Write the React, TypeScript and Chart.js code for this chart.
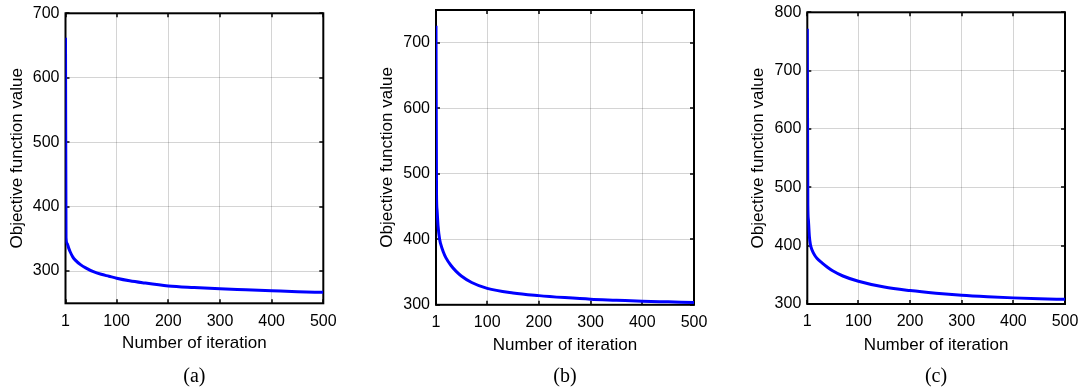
import React, { useEffect, useRef } from "react";
import { Chart, registerables } from "chart.js";

Chart.register(...registerables);

// ---- data ----
const xTickValues = [1, 100, 200, 300, 400, 500];
const xTitle = "Number of iteration";
const yTitle = "Objective function value";

const iterA = [1, 2, 4, 7, 10, 15, 20, 30, 40, 55, 70, 85, 100, 125, 150, 200, 250, 300, 350, 400, 450, 500];
const valuesA = [662, 352, 343, 336, 330, 322, 317, 310, 305, 299, 295, 292, 289, 285, 282, 277, 274.5, 272.5, 271, 269.5, 268, 267];
const yTicksA = [300, 400, 500, 600, 700];
const yRangeA = [250, 700];

const iterB = [1, 2, 3, 5, 8, 10, 15, 20, 30, 40, 50, 70, 100, 150, 200, 250, 300, 350, 400, 450, 500];
const valuesB = [726, 470, 445, 420, 400, 393, 381, 372, 360, 351, 344, 334, 325, 318, 314, 311, 308.5, 307, 305.5, 304.5, 303.5];
const yTicksB = [300, 400, 500, 600, 700];
const yRangeB = [300, 750];

const iterC = [1, 2, 3, 5, 7, 10, 15, 20, 30, 40, 50, 70, 100, 150, 200, 250, 300, 350, 400, 450, 500];
const valuesC = [772, 470, 445, 416, 402, 393, 384, 378, 370, 363, 357, 348, 339, 329, 323, 318.5, 315, 312.5, 310.5, 309, 308];
const yTicksC = [300, 400, 500, 600, 700, 800];
const yRangeC = [300, 800];

const captions = ["(a)", "(b)", "(c)"];

const SANS = "'Liberation Sans', Arial, Helvetica, sans-serif";
const SERIF = "'Liberation Serif', 'Times New Roman', Times, serif";

const framePlugin = {
  id: "matlabFrame",
  beforeDatasetsDraw(chart: any) {
    const { ctx, chartArea: a, scales } = chart;
    const xs = scales.x;
    const ys = scales.y;
    const tl = 4;
    ctx.save();
    ctx.strokeStyle = "#000";
    ctx.lineWidth = 1.5;
    ctx.beginPath();
    xs.ticks.forEach((t: any) => {
      const px = Math.round(xs.getPixelForValue(t.value));
      ctx.moveTo(px, a.bottom);
      ctx.lineTo(px, a.bottom - tl);
      ctx.moveTo(px, a.top);
      ctx.lineTo(px, a.top + tl);
    });
    ys.ticks.forEach((t: any) => {
      const py = Math.round(ys.getPixelForValue(t.value));
      ctx.moveTo(a.left, py);
      ctx.lineTo(a.left + tl, py);
      ctx.moveTo(a.right, py);
      ctx.lineTo(a.right - tl, py);
    });
    ctx.stroke();
    ctx.lineWidth = 2;
    ctx.strokeRect(a.left, a.top, a.right - a.left, a.bottom - a.top);
    ctx.restore();
  },
};

type Geom = {
  x: number;
  width: number;
  height: number;
  left: number;
  right: number;
  top: number;
  bottom: number;
  yTitleX: number;
  xTitleY: number;
  tickY: number;
};

function Panel({ iters, values, yTicks, yRange, g }: { iters: number[]; values: number[]; yTicks: number[]; yRange: number[]; g: Geom }) {
  const ref = useRef<HTMLCanvasElement>(null);
  useEffect(() => {
    if (!ref.current) return;
    const tickFont = { family: SANS, size: 16 };
    const titleFont = { family: SANS, size: 17 };
    const gridColor = "rgba(0,0,0,0.17)";
    const chart = new Chart(ref.current, {
      type: "line",
      data: {
        datasets: [
          {
            data: iters.map((x, i) => ({ x, y: values[i] })),
            borderColor: "#0000ff",
            borderWidth: 3,
            pointRadius: 0,
            cubicInterpolationMode: "monotone",
            fill: false,
          },
        ],
      },
      options: {
        animation: false,
        responsive: false,
        devicePixelRatio: 1,
        layout: { padding: { left: 0, top: g.top, right: g.width - g.right, bottom: 0 } },
        plugins: { legend: { display: false }, tooltip: { enabled: false } },
        scales: {
          x: {
            type: "linear",
            min: 1,
            max: 500,
            afterBuildTicks: (s: any) => {
              s.ticks = xTickValues.map((v) => ({ value: v }));
            },
            afterFit: (s: any) => {
              s.height = g.height - g.bottom;
              s.paddingLeft = 0;
              s.paddingRight = 0;
            },
            grid: { color: gridColor, lineWidth: 1, drawTicks: false },
            border: { display: false },
            ticks: {
              color: "#000",
              font: tickFont,
              padding: g.tickY - g.bottom - 9.6,
              maxRotation: 0,
              autoSkip: false,
              callback: (v: any) => String(v),
            },
            title: {
              display: true,
              text: xTitle,
              color: "#000",
              font: titleFont,
              padding: { top: 0, bottom: g.height - g.xTitleY - 10.2 },
            },
          },
          y: {
            type: "linear",
            min: yRange[0],
            max: yRange[1],
            afterBuildTicks: (s: any) => {
              s.ticks = yTicks.map((v) => ({ value: v }));
            },
            afterFit: (s: any) => {
              s.width = g.left;
              s.paddingTop = 0;
              s.paddingBottom = 0;
            },
            grid: { color: gridColor, lineWidth: 1, drawTicks: false },
            border: { display: false },
            ticks: {
              color: "#000",
              font: tickFont,
              padding: 6,
              autoSkip: false,
              callback: (v: any) => String(v),
            },
            title: {
              display: true,
              text: yTitle,
              color: "#000",
              font: titleFont,
              padding: { top: g.yTitleX - 10.2, bottom: 0 },
            },
          },
        },
      } as any,
      plugins: [framePlugin],
    });
    return () => chart.destroy();
  }, []);
  return (
    <canvas
      ref={ref}
      width={g.width}
      height={g.height}
      style={{ position: "absolute", left: g.x, top: 0, width: g.width, height: g.height }}
    />
  );
}

const geoms: Geom[] = [
  { x: 0, width: 360, height: 389, left: 65.5, right: 323.3, top: 13.3, bottom: 303.3, yTitleX: 17.7, xTitleY: 343.5, tickY: 322 },
  { x: 360, width: 360, height: 389, left: 76, right: 334, top: 10, bottom: 304.8, yTitleX: 27.3, xTitleY: 345, tickY: 323 },
  { x: 720, width: 362, height: 389, left: 87.3, right: 345, top: 12.3, bottom: 304, yTitleX: 38.3, xTitleY: 345, tickY: 322 },
];

export default function App() {
  const panels = [
    { iters: iterA, values: valuesA, yTicks: yTicksA, yRange: yRangeA },
    { iters: iterB, values: valuesB, yTicks: yTicksB, yRange: yRangeB },
    { iters: iterC, values: valuesC, yTicks: yTicksC, yRange: yRangeC },
  ];
  const captionX = [194.4, 565, 936];
  return (
    <div style={{ position: "absolute", left: 0, top: 0, width: 1082, height: 389, background: "#fff", overflow: "hidden" }}>
      {panels.map((p, i) => (
        <Panel key={i} {...p} g={geoms[i]} />
      ))}
      {captions.map((c, i) => (
        <div
          key={c}
          style={{
            position: "absolute",
            left: captionX[i] - 40,
            width: 80,
            top: 363,
            lineHeight: "24px",
            textAlign: "center",
            fontFamily: SERIF,
            fontSize: 20,
            color: "#000",
          }}
        >
          {c}
        </div>
      ))}
    </div>
  );
}
